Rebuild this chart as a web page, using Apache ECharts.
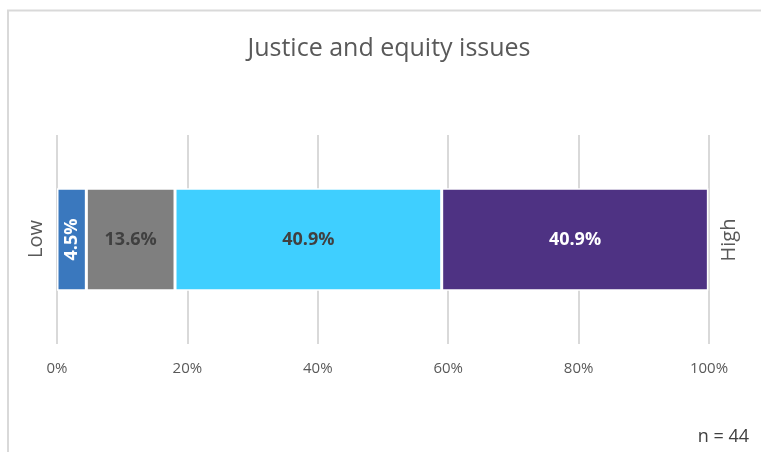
<!DOCTYPE html>
<html><head><meta charset="utf-8">
<script src="https://cdn.jsdelivr.net/npm/echarts@6/dist/echarts.min.js"></script>
<style>html,body{margin:0;padding:0;background:#fff}#c{width:761px;height:452px}</style>
</head><body><div id="c"></div>
<script>
const categories = ['Justice and equity issues'];
const segmentNames = ['1', '2', '3', '4'];
const segmentValues = [4.5, 13.6, 40.9, 40.9];
const segmentColors = ['#3A78BE', '#7F7F7F', '#3FCFFF', '#4E3283'];
const labelColors = ['#FFFFFF', '#404040', '#404040', '#FFFFFF'];
const labelRotate = [90, 0, 0, 0];
const tickValues = [0, 20, 40, 60, 80, 100];

const chart = echarts.init(document.getElementById('c'), null, {renderer: 'canvas'});
const series = segmentNames.map((n, i) => ({
  name: n, type: 'bar', stack: 'total', barWidth: '49%',
  data: [segmentValues[i]],
  itemStyle: {color: segmentColors[i], borderColor: '#fff', borderWidth: 1.5},
  label: {show: true, position: 'inside', rotate: labelRotate[i],
    formatter: p => p.value.toFixed(1) + '%',
    color: labelColors[i], fontFamily: 'Open Sans', fontWeight: 'bold', fontSize: 18}
}));
chart.setOption({
  animation: false,
  title: {text: categories[0], left: 384, top: 31, textAlign: 'center',
    textStyle: {fontFamily: 'Open Sans', fontWeight: 'normal', fontSize: 25, color: '#595959'}},
  grid: {left: 57, right: 52, top: 135, bottom: 108},
  xAxis: {type: 'value', min: tickValues[0], max: tickValues[tickValues.length - 1], interval: 20,
    axisLine: {show: false}, axisTick: {show: false},
    splitLine: {lineStyle: {color: '#D9D9D9', width: 2}},
    axisLabel: {formatter: v => v + '%', color: '#595959', fontFamily: 'Open Sans', fontSize: 15, margin: 17}},
  yAxis: {type: 'category', data: categories, show: false},
  series: series,
  graphic: [
    {type: 'rect', shape: {x: 8, y: 10.5, width: 1000, height: 600}, style: {fill: 'none', stroke: '#D9D9D9', lineWidth: 2}, silent: true},
    {type: 'text', x: 36, y: 239, rotation: Math.PI / 2, style: {text: 'Low', fontFamily: 'Open Sans', fontSize: 20, fill: '#595959', textAlign: 'center', textVerticalAlign: 'middle'}},
    {type: 'text', x: 729, y: 240, rotation: Math.PI / 2, style: {text: 'High', fontFamily: 'Open Sans', fontSize: 20, fill: '#595959', textAlign: 'center', textVerticalAlign: 'middle'}},
    {type: 'text', right: 12, top: 428, style: {text: 'n = 44', fontFamily: 'Open Sans', fontSize: 18, fill: '#404040'}}
  ]
});
</script></body></html>
